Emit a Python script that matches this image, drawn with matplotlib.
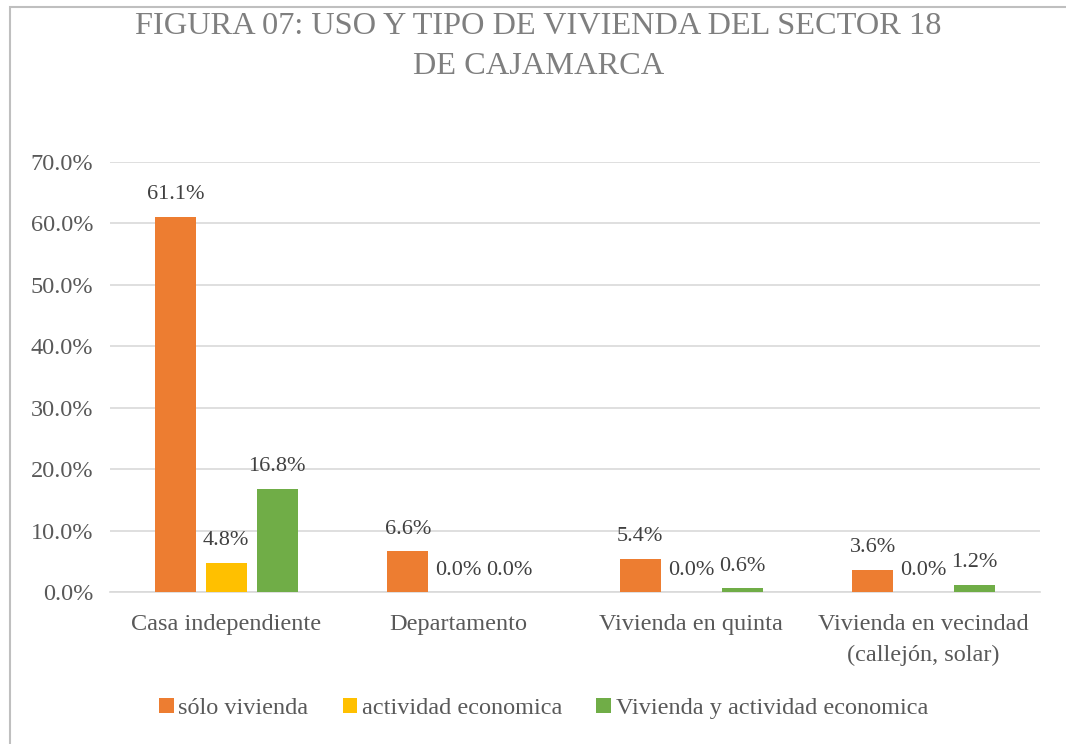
import matplotlib
matplotlib.use("Agg")
import matplotlib.pyplot as plt
from matplotlib.patches import Rectangle
import numpy as np

matplotlib.rcParams.update({
    "font.family": "Liberation Serif",
})

categorias = ["Casa independiente", "Departamento", "Vivienda en quinta",
              "Vivienda en vecindad\n(callejón, solar)"]
series = ["sólo vivienda", "actividad economica", "Vivienda y actividad economica"]
solo_vivienda = [61.1, 6.6, 5.4, 3.6]
actividad_eco = [4.8, 0.0, 0.0, 0.0]
viv_y_activ = [16.8, 0.0, 0.6, 1.2]
colores = ["#ED7D31", "#FFC000", "#70AD47"]
yticks = [0, 10, 20, 30, 40, 50, 60, 70]

fig = plt.figure(figsize=(10.66, 7.44), dpi=100)
ax = fig.add_axes([0.1032, 0.2043, 0.8724, 0.578])

# borde gris (solo visible arriba e izquierda)
fig.patches.append(Rectangle((10 / 1066, -0.2), 1.2, 1.2 - 7 / 744,
                             transform=fig.transFigure, fill=False,
                             edgecolor="#BFBFBF", linewidth=1.5))

x = np.arange(len(categorias))
w = 0.176
paso = 0.219
valores = [solo_vivienda, actividad_eco, viv_y_activ]
for k, (vals, col, nom) in enumerate(zip(valores, colores, series)):
    bars = ax.bar(x + (k - 1) * paso, vals, width=w, color=col, label=nom,
                  zorder=3)
    ax.bar_label(bars, labels=[f"{v:.1f}%" for v in vals], padding=9,
                 fontsize=16, color="#404040")

ax.set_xlim(-0.5, len(categorias) - 0.5)
ax.set_ylim(0, 70)
ax.set_yticks(yticks)
ax.set_yticklabels([f"{t:.1f}%" for t in yticks], fontsize=17.5, color="#595959")
ax.set_xticks(x)
ax.set_xticklabels(categorias, fontsize=17.5, color="#595959", linespacing=1.6)
ax.tick_params(axis="x", length=0, pad=16)
ax.tick_params(axis="y", length=0, pad=12)
ax.yaxis.grid(True, color="#D9D9D9", linewidth=1.2, zorder=0)
for s in ["top", "right", "left"]:
    ax.spines[s].set_visible(False)
ax.spines["bottom"].set_color("#D9D9D9")
ax.spines["bottom"].set_linewidth(1.2)

fig.text(0.505, 1 - 27 / 744, "FIGURA 07: USO Y TIPO DE VIVIENDA DEL SECTOR 18",
         ha="center", va="center", fontsize=23.3, color="#7F7F7F")
fig.text(0.505, 1 - 66 / 744, "DE CAJAMARCA",
         ha="center", va="center", fontsize=23.3, color="#7F7F7F")

fig.legend(loc="center", bbox_to_anchor=(0.510, 0.048), ncol=3, frameon=False,
           fontsize=17.5, handlelength=0.6, handleheight=0.6,
           handletextpad=0.2, columnspacing=1.4, labelcolor="#595959")

fig.savefig("out.png", dpi=100)
